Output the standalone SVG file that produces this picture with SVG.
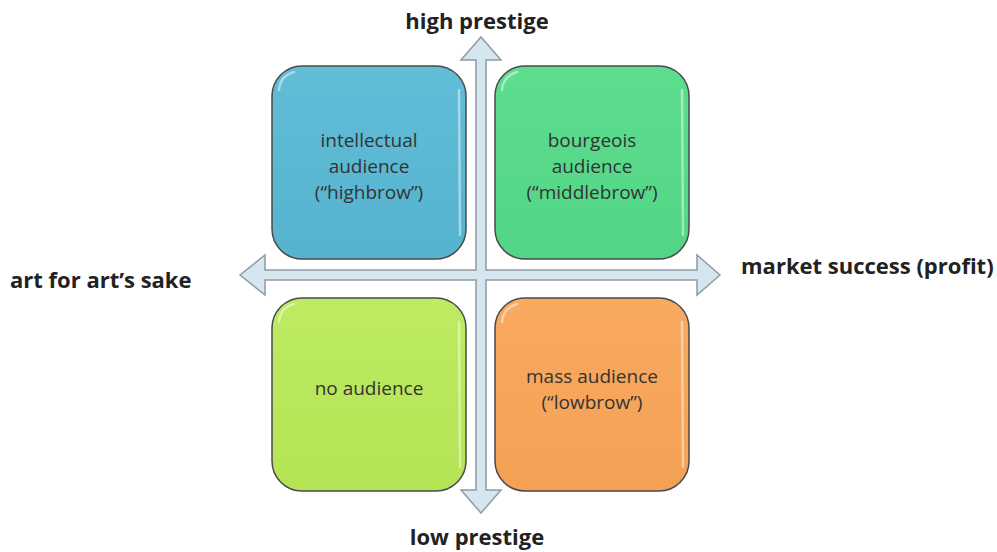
<svg xmlns="http://www.w3.org/2000/svg" width="997" height="552" viewBox="0 0 997 552">
<style>
.box{stroke:#4a4a4a;stroke-width:1.5}
.hl{fill:none;stroke:#ffffff;stroke-opacity:0.45;stroke-width:2.5;stroke-linecap:round}
.t{font-family:"Open Sans",Lato,"Liberation Sans",sans-serif;font-size:19px;fill:#333333;text-anchor:middle}
.ax{font-family:"Open Sans",Lato,"Liberation Sans",sans-serif;font-size:22px;font-weight:bold;fill:#222222}
.arrow{fill:#D6E6EE;stroke:#8F9BA5;stroke-width:1.5;stroke-linejoin:miter}
</style>
<defs>
<linearGradient id="gBlue" x1="0" y1="0" x2="0" y2="1"><stop offset="0" stop-color="#62BDD7"/><stop offset="1" stop-color="#55B3CF"/></linearGradient>
<linearGradient id="gGreen" x1="0" y1="0" x2="0" y2="1"><stop offset="0" stop-color="#5EDD8F"/><stop offset="1" stop-color="#52D586"/></linearGradient>
<linearGradient id="gLime" x1="0" y1="0" x2="0" y2="1"><stop offset="0" stop-color="#BEEB62"/><stop offset="1" stop-color="#B4E455"/></linearGradient>
<linearGradient id="gOrange" x1="0" y1="0" x2="0" y2="1"><stop offset="0" stop-color="#F8AA60"/><stop offset="1" stop-color="#F4A155"/></linearGradient>
</defs>
<rect width="997" height="552" fill="#ffffff"/>
<g id="connectors">
<polygon class="arrow" points="481,37 501,60 486,60 486,270 697,270 697,255 720,275 697,295 697,280 486,280 486,490 501,490 481,513 461,490 476,490 476,280 265,280 265,295 240,275 265,255 265,270 476,270 476,60 461,60"/>
</g>
<g id="node-highbrow">
<rect class="box" x="272" y="66" width="194" height="193" rx="30" fill="url(#gBlue)"/>
<path class="hl" d="M279,90 Q280,76 294,72 M459,90 L460,235"/>
<text class="t" x="369" y="147">intellectual</text>
<text class="t" x="369" y="173">audience</text>
<text class="t" x="369" y="199">(“highbrow”)</text>
</g>
<g id="node-middlebrow">
<rect class="box" x="495" y="66" width="194" height="193" rx="30" fill="url(#gGreen)"/>
<path class="hl" d="M502,90 Q503,76 517,72 M682,90 L683,235"/>
<text class="t" x="592" y="147">bourgeois</text>
<text class="t" x="592" y="173">audience</text>
<text class="t" x="592" y="199">(“middlebrow”)</text>
</g>
<g id="node-none">
<rect class="box" x="272" y="298" width="194" height="193" rx="30" fill="url(#gLime)"/>
<path class="hl" d="M279,322 Q280,308 294,304 M459,322 L460,467"/>
<text class="t" x="369" y="395">no audience</text>
</g>
<g id="node-lowbrow">
<rect class="box" x="495" y="298" width="194" height="193" rx="30" fill="url(#gOrange)"/>
<path class="hl" d="M502,322 Q503,308 517,304 M682,322 L683,467"/>
<text class="t" x="592" y="383">mass audience</text>
<text class="t" x="592" y="409">(“lowbrow”)</text>
</g>
<g id="labels">
<text class="ax" x="477" y="29" text-anchor="middle">high prestige</text>
<text class="ax" x="477" y="545" text-anchor="middle">low prestige</text>
<text class="ax" x="10" y="288">art for art’s sake</text>
<text class="ax" x="741" y="274">market success (profit)</text>
</g>
</svg>
